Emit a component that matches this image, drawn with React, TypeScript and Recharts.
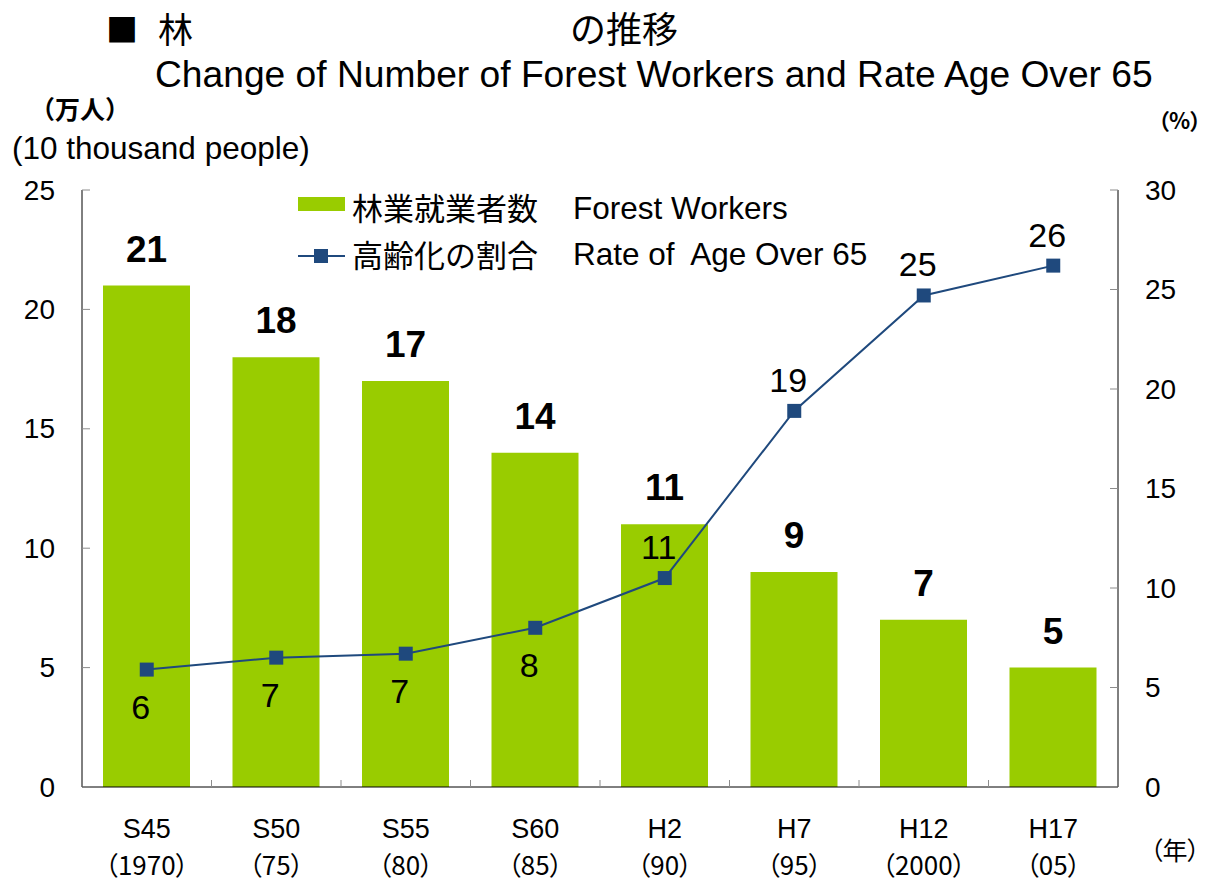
import { ComposedChart, Bar, Line, XAxis, YAxis, LabelList } from "recharts";

// era labels and western years on the category axis
const eras = ["S45", "S50", "S55", "S60", "H2", "H7", "H12", "H17"];
const years = ["（1970）", "（75）", "（80）", "（85）", "（90）", "（95）", "（2000）", "（05）"];
// forest workers (10 thousand people)
const workers = [21, 18, 17, 14, 11, 9, 7, 5];
// share of workers aged over 65 (%)
const agedRate = [5.9, 6.5, 6.7, 8.0, 10.5, 18.9, 24.7, 26.2];
const leftTicks = [0, 5, 10, 15, 20, 25];
const rightTicks = [0, 5, 10, 15, 20, 25, 30];

const data = eras.map((era, i) => ({
  era,
  workers: workers[i],
  rate: agedRate[i],
}));

const W = 1206;
const H = 881;
const margin = { top: 190, right: 28, bottom: 14, left: 22 };
const AXIS_W = 60;
const band = (W - margin.left - margin.right - AXIS_W * 2) / eras.length;

const GREEN = "#99cc00";
const NAVY = "#1f497d";
const TICK_GRAY = "#8c8c8c";
const LATIN_FONT = "'Liberation Sans', Arial, sans-serif";
const JP_FONT = "'Noto Sans CJK JP', 'Noto Sans', sans-serif";

function LeftTick(props: any) {
  const { x, y, payload } = props;
  return (
    <g>
      <line x1={x + 27} x2={x + 35} y1={y} y2={y} stroke={TICK_GRAY} />
      <text x={x} y={y} textAnchor="end" dominantBaseline="central" fontFamily={LATIN_FONT} fontSize={28} fill="#000">
        {payload.value}
      </text>
    </g>
  );
}

function RightTick(props: any) {
  const { x, y, payload } = props;
  return (
    <g>
      <line x1={x - 27} x2={x - 35} y1={y} y2={y} stroke={TICK_GRAY} />
      <text x={x} y={y} textAnchor="start" dominantBaseline="central" fontFamily={LATIN_FONT} fontSize={28} fill="#000">
        {payload.value}
      </text>
    </g>
  );
}

function CategoryTick(props: any) {
  const { x, y, payload } = props;
  const i = eras.indexOf(payload.value);
  return (
    <g>
      {i < eras.length - 1 && (
        <line x1={x + band / 2} x2={x + band / 2} y1={y} y2={y - 7} stroke={TICK_GRAY} />
      )}
      <text x={x} y={y + 51} textAnchor="middle" fontFamily={LATIN_FONT} fontSize={27} fill="#000">
        {payload.value}
      </text>
      <text
        x={x}
        y={y + 88}
        textAnchor="middle"
        fontFamily={JP_FONT}
        fontSize={26}
        fill="#000"
        style={{ fontFeatureSettings: "'palt'" }}
      >
        {years[i]}
      </text>
    </g>
  );
}

function BarValue(props: any) {
  const { x, y, width, value } = props;
  return (
    <text
      x={x + width / 2}
      y={y - 24}
      textAnchor="middle"
      fontFamily={LATIN_FONT}
      fontWeight="bold"
      fontSize={37}
      fill="#000"
    >
      {value}
    </text>
  );
}

function RateValue(props: any) {
  const { x, y, value, index } = props;
  const below = index < 4;
  return (
    <text
      x={x - 6}
      y={below ? y + 37 : y - 31}
      textAnchor="middle"
      dominantBaseline="central"
      fontFamily={LATIN_FONT}
      fontSize={34}
      fill="#000"
    >
      {Math.round(value)}
    </text>
  );
}

function SquareDot(props: any) {
  const { cx, cy, index } = props;
  return <rect key={`dot-${index}`} x={cx - 7} y={cy - 7} width={14} height={14} fill={NAVY} />;
}

export default function App() {
  return (
    <div style={{ position: "absolute", left: 0, top: 0, width: W, height: H, background: "#fff" }}>
      <ComposedChart width={W} height={H} data={data} margin={margin}>
        <XAxis
          dataKey="era"
          height={80}
          axisLine={{ stroke: "#000" }}
          tickLine={false}
          tickSize={0}
          tickMargin={0}
          tick={<CategoryTick />}
          interval={0}
        />
        <YAxis
          yAxisId="left"
          orientation="left"
          width={AXIS_W}
          domain={[0, 25]}
          ticks={leftTicks}
          axisLine={{ stroke: "#000" }}
          tickLine={false}
          tickSize={0}
          tickMargin={27}
          tick={<LeftTick />}
        />
        <YAxis
          yAxisId="right"
          orientation="right"
          width={AXIS_W}
          domain={[0, 30]}
          ticks={rightTicks}
          axisLine={{ stroke: "#000" }}
          tickLine={false}
          tickSize={0}
          tickMargin={27}
          tick={<RightTick />}
        />
        <Bar yAxisId="left" dataKey="workers" fill={GREEN} barSize={87} isAnimationActive={false}>
          <LabelList dataKey="workers" content={<BarValue />} />
        </Bar>
        <Line
          yAxisId="right"
          dataKey="rate"
          stroke={NAVY}
          strokeWidth={2}
          dot={<SquareDot />}
          activeDot={false}
          isAnimationActive={false}
        >
          <LabelList dataKey="rate" content={<RateValue />} />
        </Line>
      </ComposedChart>

      <svg
        width={W}
        height={H}
        style={{ position: "absolute", left: 0, top: 0, pointerEvents: "none" }}
      >
        {/* title */}
        <text x={106} y={42} fontFamily={JP_FONT} fontSize={32} fill="#000">■</text>
        <text x={158} y={43} fontFamily={JP_FONT} fontSize={35} fill="#000">林</text>
        <text x={570} y={43} fontFamily={JP_FONT} fontSize={36} fill="#000">の推移</text>
        <text x={155} y={87} fontFamily={LATIN_FONT} fontSize={37.2} fill="#000">
          Change of Number of Forest Workers and Rate Age Over 65
        </text>

        {/* axis units */}
        <text x={30} y={119} fontFamily={JP_FONT} fontSize={25} fontWeight="bold" fill="#000">（万人）</text>
        <text x={12} y={159} fontFamily={LATIN_FONT} fontSize={31.5} fill="#000">(10 thousand people)</text>
        <text x={1158} y={129} fontFamily={JP_FONT} fontSize={22} fontWeight="bold" fill="#000" style={{ fontFeatureSettings: "'palt'" }}>
          （%）
        </text>
        <text x={1150} y={860} fontFamily={JP_FONT} fontSize={25} fill="#000" style={{ fontFeatureSettings: "'palt'" }}>
          （年）
        </text>

        {/* legend */}
        <rect x={298} y={197} width={47} height={14} fill={GREEN} />
        <text x={352} y={220} fontFamily={JP_FONT} fontSize={31} fill="#000">林業就業者数</text>
        <text x={573} y={219} fontFamily={LATIN_FONT} fontSize={31.5} fill="#000">Forest Workers</text>
        <line x1={298} x2={345} y1={256} y2={256} stroke={NAVY} strokeWidth={2} />
        <rect x={314} y={249} width={14} height={14} fill={NAVY} />
        <text x={352} y={267} fontFamily={JP_FONT} fontSize={31} fill="#000">高齢化の割合</text>
        <text x={573} y={265} fontFamily={LATIN_FONT} fontSize={31.5} fill="#000" style={{ whiteSpace: "pre" }}>
          Rate of  Age Over 65
        </text>
      </svg>
    </div>
  );
}
